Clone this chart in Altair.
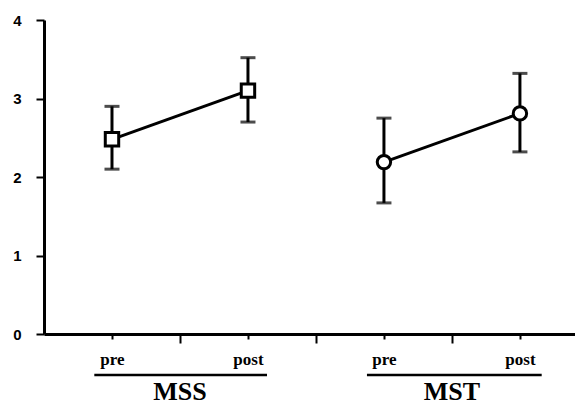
import altair as alt
import pandas as pd

# ---- data ----
groups = ["MSS", "MSS", "MST", "MST"]
phases = ["pre", "post", "pre", "post"]
positions = [1, 3, 5, 7]
means = [2.48, 3.10, 2.19, 2.81]
lower = [2.10, 2.70, 1.67, 2.32]
upper = [2.90, 3.52, 2.75, 3.32]

group_names = ["MSS", "MST"]
group_centers = [2, 6]
group_starts = [0.74, 4.75]
group_ends = [3.28, 7.32]

x_ticks = [1, 2, 3, 4, 5, 6, 7]
x_tick_labels = ["pre", "", "post", "", "pre", "", "post"]
y_ticks = [0, 0.5, 1, 1.5, 2, 2.5, 3, 3.5, 4]

df = pd.DataFrame({
    "group": groups, "phase": phases, "pos": positions,
    "mean": means, "lo": lower, "hi": upper,
})
gdf = pd.DataFrame({
    "name": group_names, "center": group_centers,
    "start": group_starts, "end": group_ends,
})

# label expression built from the tick arrays
expr = "''"
for v, lab in reversed(list(zip(x_ticks, x_tick_labels))):
    expr = f"datum.value == {v} ? '{lab}' : ({expr})"

xs = alt.Scale(domain=[0, 7.81], nice=False, zero=False)
ys = alt.Scale(domain=[0, 4], nice=False)

x_axis = alt.Axis(
    values=x_ticks, labelExpr=expr, title=None, grid=False,
    domainColor="black", domainWidth=3, tickColor="black", tickWidth=2,
    tickSize={"condition": {"test": "datum.value % 2 == 0", "value": 9}, "value": 5},
    labelFont="Liberation Serif", labelFontWeight="bold", labelFontSize=17,
    labelColor="black", labelBaseline="alphabetic", labelPadding=25,
    labelFlush=False, labelOverlap=False,
)
y_axis = alt.Axis(
    values=y_ticks,
    labelExpr="datum.value % 1 == 0 ? format(datum.value, 'd') : ''",
    title=None, grid=False,
    domainColor="black", domainWidth=3, tickColor="black", tickWidth=2,
    tickSize={"condition": {"test": "datum.value % 1 == 0", "value": 8}, "value": 5},
    labelFont="Liberation Sans", labelFontWeight="bold", labelFontSize=15,
    labelColor="black", labelPadding=15, labelFlush=False, labelOverlap=False,
)

base = alt.Chart(df)
X = alt.X("pos:Q", scale=xs, axis=x_axis)

line = base.mark_line(color="black", strokeWidth=3).encode(
    x=X, y=alt.Y("mean:Q", scale=ys, axis=y_axis), detail="group:N"
)
bars = base.mark_rule(color="black", strokeWidth=3).encode(
    x="pos:Q", y="lo:Q", y2="hi:Q"
)
cap_lo = base.mark_tick(color="black", orient="horizontal", size=15, thickness=3).encode(
    x="pos:Q", y="lo:Q"
)
cap_hi = base.mark_tick(color="black", orient="horizontal", size=15, thickness=3).encode(
    x="pos:Q", y="hi:Q"
)
points = base.mark_point(filled=True, fill="white", stroke="black", strokeWidth=3,
                         size=180, opacity=1).encode(
    x="pos:Q", y="mean:Q",
    shape=alt.Shape("group:N", scale=alt.Scale(domain=group_names, range=["square", "circle"]),
                    legend=None),
)

gbase = alt.Chart(gdf)
underline = gbase.mark_rule(color="black", strokeWidth=2.5).encode(
    x="start:Q", x2="end:Q", y=alt.value(355)
)
gtext = gbase.mark_text(font="Liberation Serif", fontWeight="bold", fontSize=26,
                        baseline="alphabetic", color="black").encode(
    x="center:Q", y=alt.value(380), text="name:N"
)

chart = alt.layer(line, bars, cap_lo, cap_hi, points, underline, gtext).properties(
    width=531, height=314,
    autosize=alt.AutoSizeParams(type="none"),
    padding={"left": 36, "top": 12, "right": 0, "bottom": 71},
    background="white",
).configure_view(stroke=None)

chart.save("out.html", embed_options={"renderer": "svg", "actions": False})
